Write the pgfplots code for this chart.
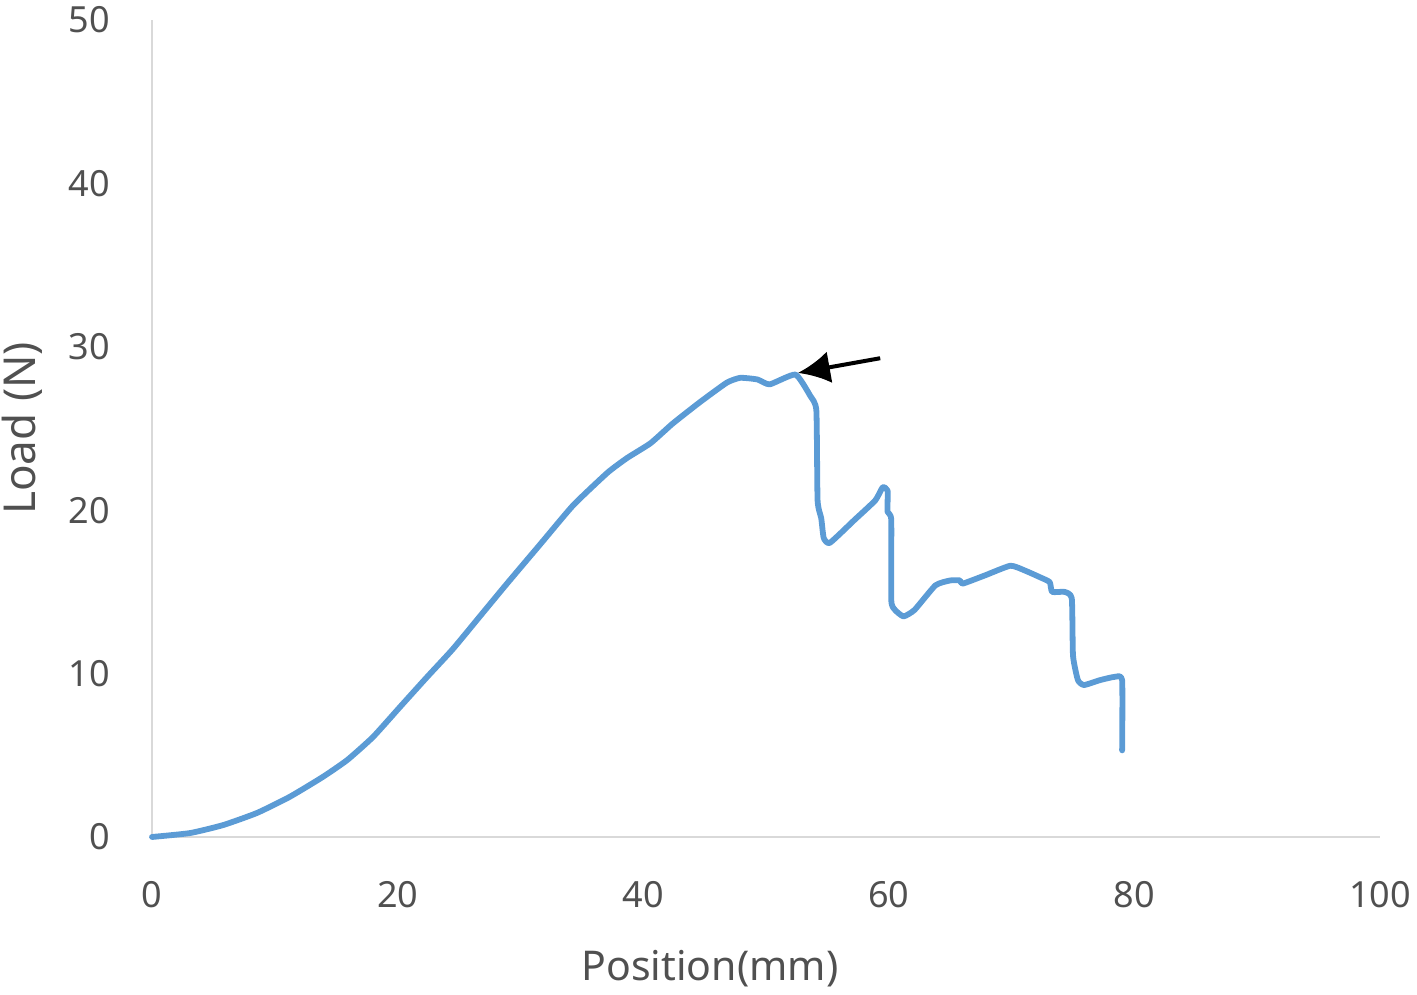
\documentclass[border=0pt]{standalone}
\usepackage{pgfplots}
\pgfplotsset{compat=1.18}
\usetikzlibrary{arrows.meta}
\usepackage{fontspec}
\setmainfont{Noto Sans}
\definecolor{lineblue}{HTML}{5B9BD5}
\definecolor{axisgray}{HTML}{D9D9D9}
\definecolor{txt}{HTML}{505050}
\begin{document}
\begin{tikzpicture}
\begin{axis}[
  scale only axis,
  width=614pt, height=408.5pt,
  xmin=0, xmax=100, ymin=0, ymax=50,
  xtick={0,20,...,100}, ytick={0,10,...,50},
  axis x line=bottom, axis y line=left,
  axis line style={axisgray, line width=1.2pt, -},
  major tick length=0pt,
  /pgf/number format/assume math mode=true,
  tick label style={font=\fontsize{18}{20}\selectfont, text=txt},
  xticklabel style={anchor=center, yshift=-29pt},
  yticklabel style={anchor=east, inner sep=0pt, xshift=-21pt},
  xlabel={Position(mm)}, ylabel={Load (N)},
  label style={font=\fontsize{22}{24}\selectfont, text=txt},
  xlabel style={at={(rel axis cs:0.5,0)}, anchor=center, yshift=-66pt, xshift=-28pt,
    font=\fontsize{20.5}{24}\selectfont},
  ylabel style={at={(rel axis cs:0,0.5)}, anchor=center, rotate=0, yshift=65pt},
  clip=false,
]
\addplot[lineblue, line width=2.9pt, line join=round, line cap=round, smooth, tension=0.3] coordinates {
  (0,0) (3.1,0.24) (5.8,0.73) (8.55,1.47) (11.2,2.45) (13.9,3.67) (15.9,4.71)
  (18.0,6.12) (20.2,7.96) (22.4,9.79) (24.5,11.5) (26.7,13.5) (28.9,15.5)
  (31.6,17.9) (34.3,20.3) (37.1,22.3) (38.7,23.2) (40.6,24.1) (42.4,25.3)
  (44.6,26.6) (46.8,27.8) (47.9,28.1) (49.3,28.0) (50.3,27.7) (52.4,28.3) (53.6,27.0)
  (54.1,26.1) (54.2,20.6) (54.5,19.5) (54.7,18.3) (55.2,18.0) (57.2,19.4)
  (58.9,20.6) (59.5,21.4) (59.9,21.2) (59.9,19.9) (60.2,19.4) (60.2,14.5)
  (60.5,13.9) (61.2,13.5) (62.1,13.9) (63.8,15.4) (65,15.7) (65.8,15.7)
  (66,15.5) (67.8,16.0) (69.9,16.6) (71.1,16.3) (72.3,15.9) (73.1,15.6)
  (73.3,15.0) (74.3,15.0) (74.9,14.6) (75,11.1) (75.4,9.6) (75.9,9.3)
  (77.2,9.6) (78.4,9.8) (79,9.6) (79,5.3)
};
\draw[black, line width=2pt, -{Latex[length=16pt, width=16pt]}]
  (axis cs:59.3,29.3) -- (axis cs:52.6,28.4);
\coordinate (bl) at (rel axis cs:0,0);
\coordinate (tr) at (rel axis cs:1,1);
\end{axis}
\pgfresetboundingbox
\path ([shift={(-76pt,-79pt)}]bl) rectangle ([shift={(18.5pt,10pt)}]tr);
\end{tikzpicture}
\end{document}
